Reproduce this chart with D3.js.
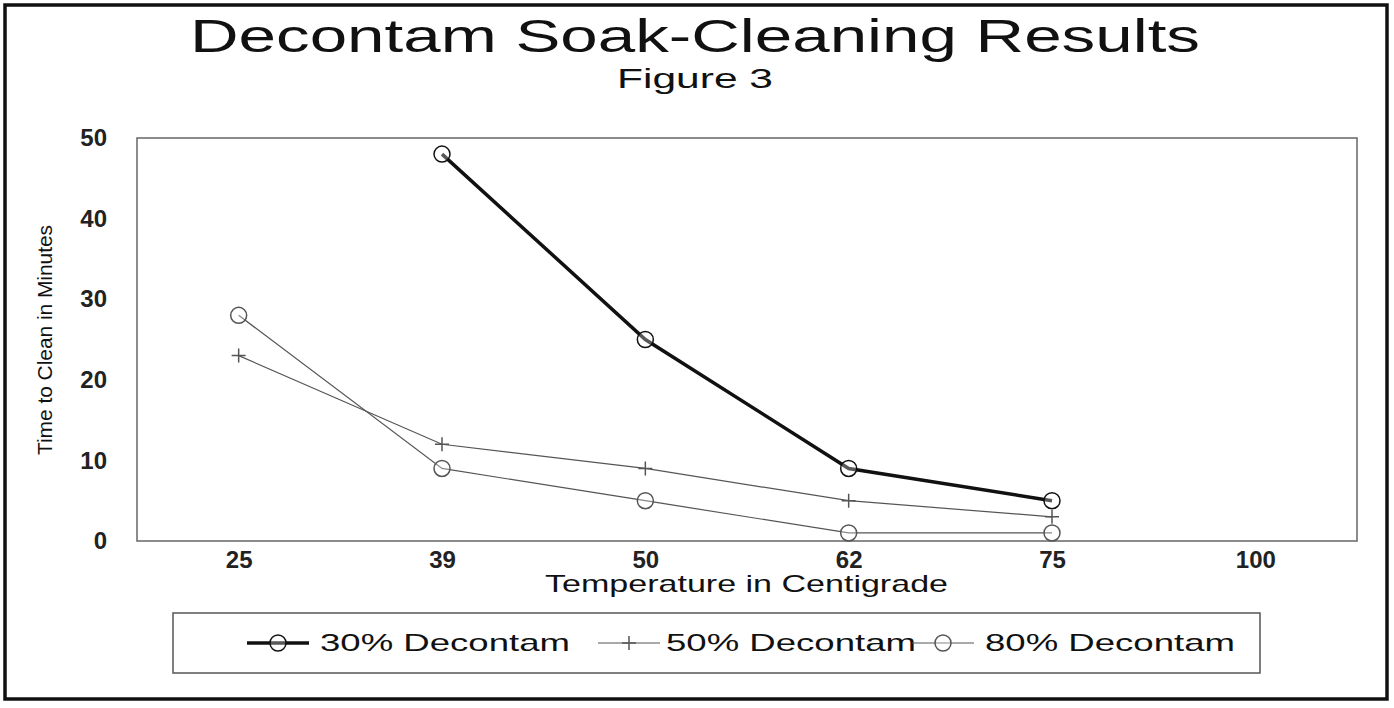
<!DOCTYPE html><html><head><script src="https://cdn.jsdelivr.net/npm/d3@7"></script>
<style>body{margin:0;background:#fff}</style></head><body><svg id="c" width="1394" height="708"></svg>
<script>
const temps=["25","39","50","62","75","100"];
const s30=[null,48,25,9,5,null];
const s50=[23,12,9,5,3,null];
const s80=[28,9,5,1,1,null];
const yTicks=[0,10,20,30,40,50];
const names=["30% Decontam","50% Decontam","80% Decontam"];
const svg=d3.select("#c"),F="Liberation Sans, Arial, sans-serif";
svg.append("rect").attr("x",5).attr("y",5).attr("width",1382).attr("height",694).attr("fill","none").attr("stroke","#111").attr("stroke-width",3.5);
const L=137,R=1357,T=138,B=541;
const x=d3.scalePoint().domain(temps).range([L,R]).padding(0.5);
const y=d3.scaleLinear().domain([0,50]).range([B,T]);
svg.append("rect").attr("x",L).attr("y",T).attr("width",R-L).attr("height",B-T).attr("fill","none").attr("stroke","#666").attr("stroke-width",1.5);
const xa=svg.append("g").attr("transform",`translate(0,${B})`).call(d3.axisBottom(x).tickSize(0).tickPadding(10));
xa.select(".domain").remove();xa.selectAll("text").attr("font-size",24).attr("font-weight","bold").attr("font-family",F).attr("fill","#222");
const ya=svg.append("g").attr("transform",`translate(${L},0)`).call(d3.axisLeft(y).tickValues(yTicks).tickSize(0).tickPadding(30));
ya.select(".domain").remove();ya.selectAll("text").attr("font-size",24).attr("font-weight","bold").attr("font-family",F).attr("fill","#222");
svg.append("text").attr("x",190).attr("y",52).attr("textLength",1010).attr("lengthAdjust","spacingAndGlyphs").attr("font-family",F).attr("font-size",46).attr("fill","#111").text("Decontam Soak-Cleaning Results");
svg.append("text").attr("x",617).attr("y",88).attr("textLength",156).attr("lengthAdjust","spacingAndGlyphs").attr("font-family",F).attr("font-size",28).attr("fill","#111").text("Figure 3");
svg.append("text").attr("x",545).attr("y",592).attr("textLength",403).attr("lengthAdjust","spacingAndGlyphs").attr("font-family",F).attr("font-size",24).attr("fill","#111").text("Temperature in Centigrade");
svg.append("text").attr("transform","translate(52,340) rotate(-90)").attr("text-anchor","middle").attr("font-family",F).attr("font-size",20).attr("textLength",230).attr("lengthAdjust","spacingAndGlyphs").attr("fill","#111").text("Time to Clean in Minutes");
const series=[{d:s30,w:3.5,c:"#111",m:"o"},{d:s50,w:1.2,c:"#555",m:"+"},{d:s80,w:1.2,c:"#555",m:"o"}];
const line=d3.line().defined(d=>d.v!=null).x(d=>x(d.t)).y(d=>y(d.v));
function marker(g,m,cx,cy,c){ if(m=="o")g.append("circle").attr("cx",cx).attr("cy",cy).attr("r",8).attr("fill","#fff").attr("fill-opacity",0.3).attr("stroke",c).attr("stroke-width",1.5);
 else g.append("path").attr("d",`M${cx-7},${cy}H${cx+7}M${cx},${cy-7}V${cy+7}`).attr("stroke",c).attr("stroke-width",1.5);}
series.forEach(s=>{const pts=temps.map((t,i)=>({t,v:s.d[i]}));
 svg.append("path").attr("d",line(pts)).attr("fill","none").attr("stroke",s.c).attr("stroke-width",s.w);
 pts.filter(p=>p.v!=null).forEach(p=>marker(svg,s.m,x(p.t),y(p.v),s.c));});
svg.append("rect").attr("x",173).attr("y",613).attr("width",1087).attr("height",60).attr("fill","none").attr("stroke","#555").attr("stroke-width",1.5);
const lx=[247,598,912], tx=[320,666,985];
series.forEach((s,i)=>{svg.append("line").attr("x1",lx[i]).attr("x2",lx[i]+62).attr("y1",643).attr("y2",643).attr("stroke",s.c).attr("stroke-width",s.w);
 marker(svg,s.m,lx[i]+31,643,s.c);
 svg.append("text").attr("x",tx[i]).attr("y",651).attr("textLength",250).attr("lengthAdjust","spacingAndGlyphs").attr("font-family",F).attr("font-size",24).attr("fill","#111").text(names[i]);});
</script></body></html>
